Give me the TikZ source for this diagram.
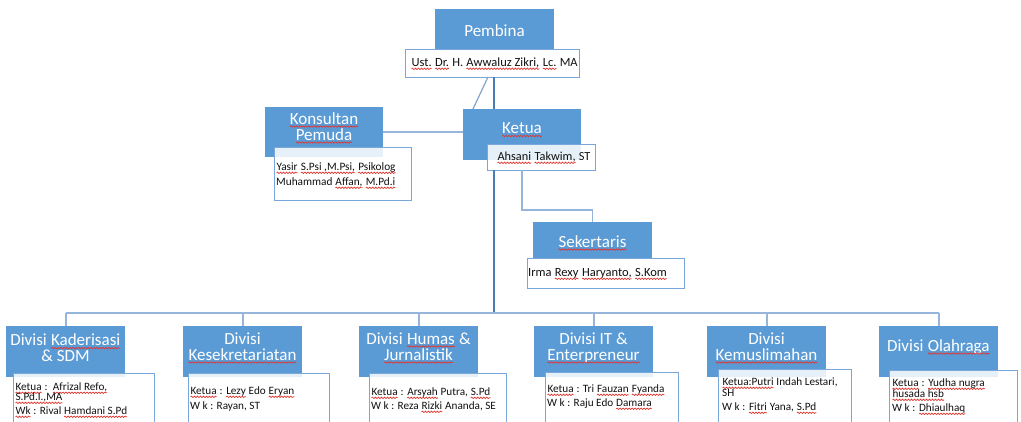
\documentclass[tikz,border=0pt]{standalone}
\usepackage{fontspec}
\setmainfont{Carlito}
\usetikzlibrary{decorations.pathmorphing}
\definecolor{bfill}{HTML}{5B9BD5}
\definecolor{wbord}{HTML}{7AA7D9}
\definecolor{txt}{HTML}{111111}
\definecolor{darkln}{HTML}{4A7DB5}
\definecolor{lightln}{HTML}{95B5DB}
\definecolor{sqred}{HTML}{E0342C}
\newcommand\sq[1]{\tikz[baseline=(sqw.base)]{\node[inner sep=0pt,outer sep=0pt,anchor=base] (sqw) at (0,0) {#1};
  \draw[sqred,line width=0.7pt,decorate,decoration={snake,amplitude=0.7pt,segment length=3pt}] ([yshift=-2.3pt]sqw.base west) -- ([yshift=-2.3pt]sqw.base east);}}
\begin{document}
\begin{tikzpicture}[x=1pt,y=-1pt,
  bluebox/.style={fill=bfill,draw=none,inner sep=0,outer sep=0},
  whitebox/.style={fill=white,fill opacity=0.85,draw=wbord,line width=1pt,inner sep=0,outer sep=0},
  ttl/.style={text=white,font=\fontsize{17}{16}\selectfont,align=center,inner sep=0},
  nm/.style={anchor=base west,inner sep=0,text=txt,font=\fontsize{12.5}{14}\selectfont},
  dv/.style={anchor=base west,inner sep=0,text=txt,font=\fontsize{11.2}{12}\selectfont},
  mainln/.style={draw=darkln,line width=2pt},
  thinln/.style={draw=lightln,line width=1.4pt},
  busln/.style={draw=lightln,line width=2pt}]
\fill[white] (0,0) rectangle (1021,421);
\clip (0,0) rectangle (1021,421);
% reference coordinates
\coordinate (v) at (494,0);
\coordinate (dg1) at (488,0);
\coordinate (dg2) at (473,0);
\coordinate (s1) at (522,210);
\coordinate (bus) at (0,313);
% boxes (blue)
\node[bluebox,minimum width=119pt,minimum height=41pt] (pb) at (494.5,29.5) {};
\node[bluebox,minimum width=118pt,minimum height=50pt] (knb) at (324,132) {};
\node[bluebox,minimum width=118pt,minimum height=51pt] (kb) at (522,134.5) {};
\node[bluebox,minimum width=119pt,minimum height=36pt] (sb) at (592.5,240) {};
\node[bluebox,minimum width=119pt,minimum height=51pt] (d1b) at (65.5,351.5) {};
\node[bluebox,minimum width=119pt,minimum height=51pt] (d2b) at (242.5,351.5) {};
\node[bluebox,minimum width=119pt,minimum height=51pt] (d3b) at (418.5,351.5) {};
\node[bluebox,minimum width=119pt,minimum height=51pt] (d4b) at (593.5,351.5) {};
\node[bluebox,minimum width=119pt,minimum height=51pt] (d5b) at (766.5,351.5) {};
\node[bluebox,minimum width=119pt,minimum height=51pt] (d6b) at (938.5,351.5) {};
% boxes (white)
\node[whitebox,minimum width=174pt,minimum height=28pt] (pw) at (492,63) {};
\node[whitebox,minimum width=137pt,minimum height=53pt] (knw) at (342.5,173.5) {};
\node[whitebox,minimum width=108pt,minimum height=26pt] (kw) at (541,157) {};
\node[whitebox,minimum width=157pt,minimum height=30pt] (sw) at (605.5,273) {};
\node[whitebox,minimum width=141pt,minimum height=67pt] (d1w) at (83.5,406.5) {};
\node[whitebox,minimum width=141pt,minimum height=67pt] (d2w) at (258.5,406.5) {};
\node[whitebox,minimum width=137pt,minimum height=67pt] (d3w) at (437.5,406.5) {};
\node[whitebox,minimum width=133pt,minimum height=68pt] (d4w) at (611.5,406) {};
\node[whitebox,minimum width=133pt,minimum height=71pt] (d5w) at (784.5,404.5) {};
\node[whitebox,minimum width=128pt,minimum height=70pt] (d6w) at (953,405) {};
% connectors
\draw[mainln] (pw.south -| v) -- (kb.north -| v);
\draw[draw=darkln!70,line width=1.2pt] (pw.south -| dg1) -- (kb.north -| dg2);
\draw[thinln,line width=2pt] (knb.east) -- (knb.east -| kb.west);
\draw[mainln] (kw.south -| v) -- (bus -| v);
\draw[thinln] (kw.south -| s1) -- (s1) -| (sb.north);
\draw[busln] (d1b.north |- bus) -- (d6b.north |- bus);
\foreach \n in {1,...,6}{\draw[busln] (d\n b.north |- bus) -- (d\n b.north);}
% titles
\node[ttl] (pbt) at (494.5,31) {Pembina};
\node[ttl] (knt) at (324,128) {\sq{Konsultan}\\\sq{Pemuda}};
\node[ttl] (kt) at (522,130) {\sq{Ketua}};
\node[ttl] (st) at (592.5,243) {\sq{Sekertaris}};
\node[ttl] (d1t) at (65.5,348) {Divisi \sq{Kaderisasi}\\\& SDM};
\node[ttl] (d2t) at (242.5,348) {Divisi\\\sq{Kesekretariatan}};
\node[ttl] (d3t) at (418.5,348) {Divisi \sq{Humas} \&\\\sq{Jurnalistik}};
\node[ttl] (d4t) at (593.5,348) {Divisi IT \&\\\sq{Enterpreneur}};
\node[ttl] (d5t) at (766.5,348) {Divisi\\\sq{Kemuslimahan}};
\node[ttl] (d6t) at (938.5,347) {Divisi \sq{Olahraga}};
% names
\node[nm] (pn) at (411,66.5) {\sq{Ust.} \sq{Dr.} H. \sq{Awwaluz Zikri,} \sq{Lc.} MA};
\node[dv,font=\fontsize{11.3}{12}\selectfont] (kn1) at (276,170.5) {\sq{Yasir} \sq{S.Psi ,M.Psi,} \sq{Psikolog}};
\node[dv,font=\fontsize{11.3}{12}\selectfont] (kn2) at (276,185.5) {Muhammad \sq{Affan,} \sq{M.Pd.i}};
\node[nm,font=\fontsize{12.3}{14}\selectfont] (kn) at (497,160.5) {\sq{Ahsani} \sq{Takwim,} ST};
\node[nm] (sn) at (528,276.5) {Irma \sq{Rexy} \sq{Haryanto,} \sq{S.Kom}};
\node[dv] (d1n1) at (15,390.5) {\sq{Ketua} :\ \ \sq{Afrizal Refo,}};
\node[dv] (d1n2) at (15,400.5) {\sq{S.Pd.I.,MA}};
\node[dv] (d1n3) at (15,414.5) {\sq{Wk} : Rival \sq{Hamdani S.Pd}};
\node[dv] (d2n1) at (190,394.5) {\sq{Ketua} : \sq{Lezy} Edo \sq{Eryan}};
\node[dv] (d2n2) at (190,409.5) {W k : Rayan, ST};
\node[dv] (d3n1) at (371,395.5) {\sq{Ketua} : \sq{Arsyah} Putra, \sq{S.Pd}};
\node[dv] (d3n2) at (371,409.5) {W k : Reza \sq{Rizki} Ananda, SE};
\node[dv] (d4n1) at (547,392.5) {\sq{Ketua} : Tri \sq{Fauzan} \sq{Fyanda}};
\node[dv] (d4n2) at (547,406.5) {W k : Raju Edo \sq{Damara}};
\node[dv] (d5n1) at (722,385.5) {\sq{Ketua:Putri} Indah Lestari,};
\node[dv] (d5n2) at (722,396.5) {SH};
\node[dv] (d5n3) at (722,410.5) {W k : \sq{Fitri} Yana, \sq{S.Pd}};
\node[dv] (d6n1) at (892,386.5) {\sq{Ketua} : \sq{Yudha nugra}};
\node[dv] (d6n2) at (892,397.5) {\sq{husada hsb}};
\node[dv] (d6n3) at (892,411.5) {W k : \sq{Dhiaulhaq}};
\end{tikzpicture}
\end{document}
